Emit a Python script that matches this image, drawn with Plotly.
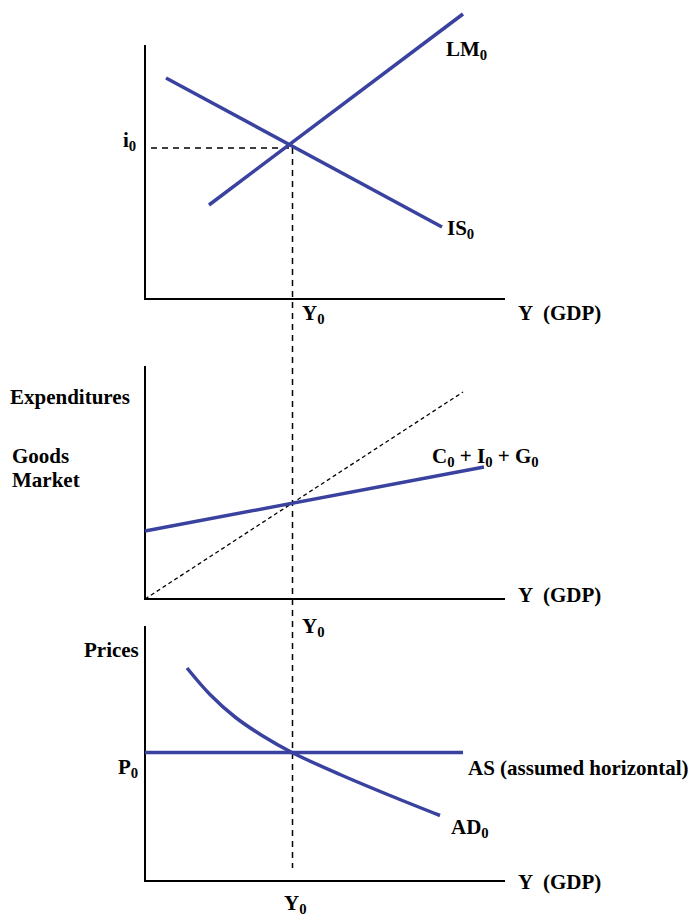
import plotly.graph_objects as go

# ---- data (diagram coordinates: x to the right, y downward) ----
# Top panel: IS-LM
IS_X = [166, 442]
IS_Y = [78, 227]
LM_X = [209, 463]
LM_Y = [205, 14]
TOP_AXIS_X = [145, 145, 505]
TOP_AXIS_Y = [45, 299, 299]
I0_LINE_X = [151, 292]
I0_LINE_Y = [148, 148]

# Middle panel: goods market
CIG_X = [145, 484]
CIG_Y = [531, 467]
DEG45_X = [145, 463]
DEG45_Y = [599, 392]
MID_AXIS_X = [145, 145, 505]
MID_AXIS_Y = [366, 599, 599]

# Bottom panel: AS-AD
AS_X = [145, 463]
AS_Y = [752.5, 752.5]
AD_X = [187, 210, 235, 262, 292, 340, 390, 440]
AD_Y = [668, 694.5, 717, 735.5, 752.5, 774.5, 795.5, 815.5]
BOT_AXIS_X = [145, 145, 505]
BOT_AXIS_Y = [626, 881, 881]

# Vertical Y0 reference
Y0_LINE_X = [292.5, 292.5]
Y0_LINE_Y = [148, 868]

# Labels: (text, x, y)
LABELS = [
    ("i<sub>0</sub>", 121, 141),
    ("LM<sub>0</sub>", 444, 50),
    ("IS<sub>0</sub>", 445, 229),
    ("Y<sub>0</sub>", 300, 314),
    ("Y  (GDP)", 516, 313),
    ("Expenditures", 8, 397),
    ("Goods", 10, 456),
    ("Market", 10, 480),
    ("C<sub>0</sub> + I<sub>0</sub> + G<sub>0</sub>", 430, 457),
    ("Y  (GDP)", 516, 595),
    ("Y<sub>0</sub>", 300, 627),
    ("Prices", 82, 650),
    ("P<sub>0</sub>", 116, 768),
    ("AS (assumed horizontal)", 466, 768),
    ("AD<sub>0</sub>", 449, 828),
    ("Y  (GDP)", 516, 882),
    ("Y<sub>0</sub>", 282, 904),
]

BLUE = "#3a42a0"
FONT = "Liberation Serif"

fig = go.Figure()

def add_line(x, y, color="black", width=2, dash="solid", shape="linear"):
    fig.add_trace(go.Scatter(x=x, y=y, mode="lines",
                             line=dict(color=color, width=width, dash=dash, shape=shape,
                                       smoothing=1.0 if shape == "spline" else None),
                             hoverinfo="skip", showlegend=False))

# axes
for ax_x, ax_y in [(TOP_AXIS_X, TOP_AXIS_Y), (MID_AXIS_X, MID_AXIS_Y), (BOT_AXIS_X, BOT_AXIS_Y)]:
    add_line(ax_x, ax_y, width=2)

# reference dashed lines
add_line(I0_LINE_X, I0_LINE_Y, width=1.5, dash="6px,5px")
add_line(Y0_LINE_X, Y0_LINE_Y, width=1.5, dash="6px,5px")
add_line(DEG45_X, DEG45_Y, width=1.3, dash="4px,3px")

# curves
add_line(IS_X, IS_Y, color=BLUE, width=3.5)
add_line(LM_X, LM_Y, color=BLUE, width=3.5)
add_line(CIG_X, CIG_Y, color=BLUE, width=3.5)
add_line(AS_X, AS_Y, color=BLUE, width=3.5)
add_line(AD_X, AD_Y, color=BLUE, width=3.5, shape="spline")

for text, x, y in LABELS:
    fig.add_annotation(x=x, y=y, xref="x", yref="y", text="<b>" + text + "</b>",
                       showarrow=False, xanchor="left", yanchor="middle",
                       font=dict(family=FONT, size=21, color="black"))

fig.update_xaxes(range=[0, 691], visible=False, fixedrange=True)
fig.update_yaxes(range=[916, 0], visible=False, fixedrange=True)
fig.update_layout(width=691, height=916, margin=dict(l=0, r=0, t=0, b=0),
                  plot_bgcolor="white", paper_bgcolor="white")

fig.write_html("out.html", config={"displayModeBar": False},
               post_script="document.body.style.margin='0px';document.body.style.overflow='hidden';")
